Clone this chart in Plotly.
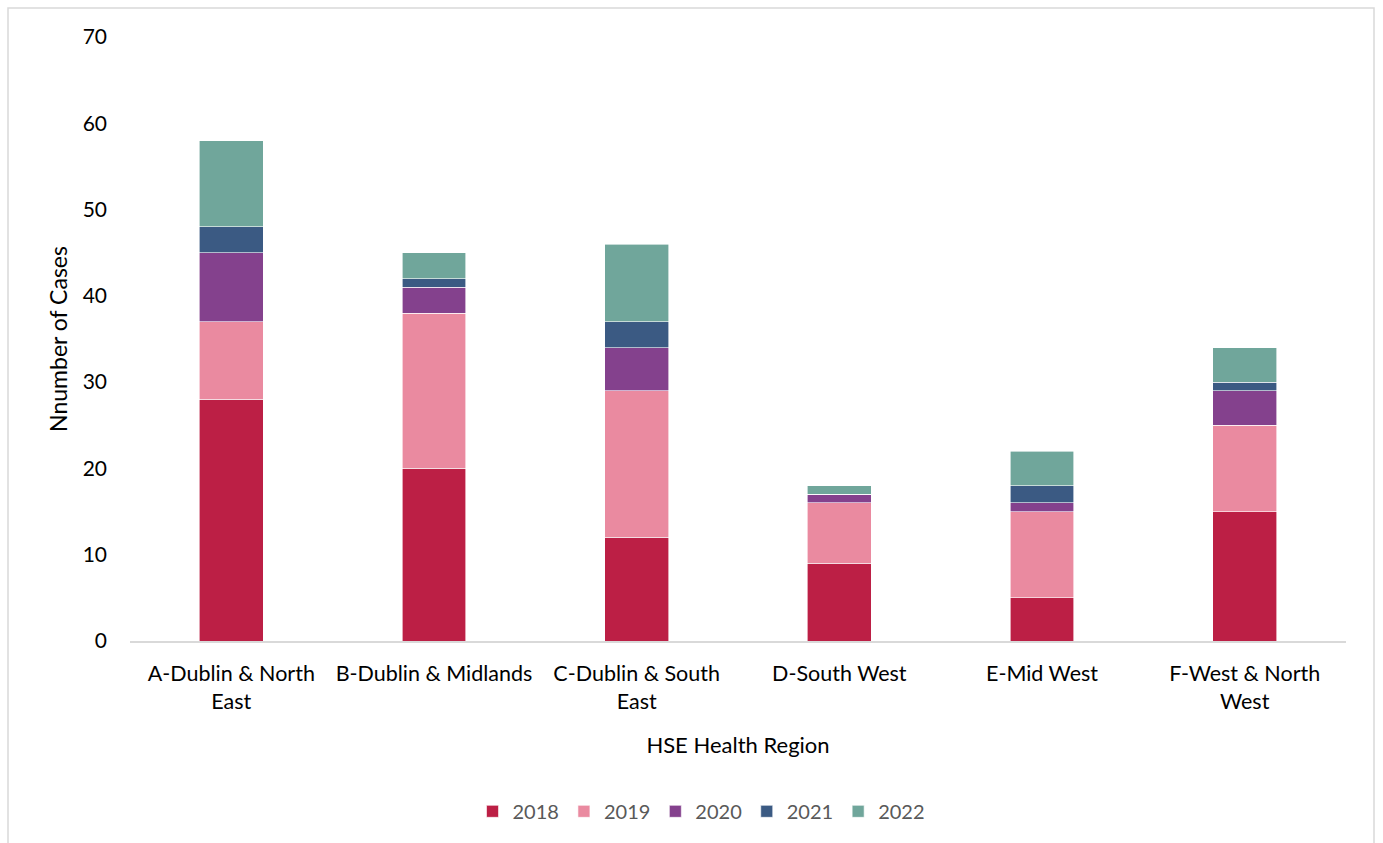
import plotly.graph_objects as go

regions = ["A-Dublin & North<br>East", "B-Dublin & Midlands", "C-Dublin & South<br>East",
           "D-South West", "E-Mid West", "F-West & North<br>West"]
years = ["2018", "2019", "2020", "2021", "2022"]
v2018 = [28, 20, 12, 9, 5, 15]
v2019 = [9, 18, 17, 7, 10, 10]
v2020 = [8, 3, 5, 1, 1, 4]
v2021 = [3, 1, 3, 0, 2, 1]
v2022 = [10, 3, 9, 1, 4, 4]
series = [v2018, v2019, v2020, v2021, v2022]
colors = ["#BC1F45", "#EA8AA0", "#84418D", "#3B5A83", "#70A69B"]

fig = go.Figure()
for name, vals, c in zip(years, series, colors):
    fig.add_trace(go.Bar(x=regions, y=vals, name=name, marker=dict(color=c, line=dict(color="white", width=0.6))))

W, H = 1383, 843
l, r, t, b = 130, 37, 37, 202
pw, ph = W - l - r, H - t - b

fig.update_layout(
    width=W, height=H, barmode="stack", bargap=0.685,
    margin=dict(l=l, r=r, t=t, b=b),
    paper_bgcolor="white", plot_bgcolor="white",
    font=dict(family="Lato, Liberation Sans, sans-serif", size=21, color="#000000"),
    legend=dict(orientation="h", x=0.47, xanchor="center", y=-0.282, yanchor="middle",
                font=dict(size=20, color="#595959"), itemwidth=30, traceorder="normal"),
    xaxis=dict(showgrid=False, showline=True, linecolor="#D9D9D9", linewidth=1.5, ticks="",
               ticklabelstandoff=12,
               title=dict(text="HSE Health Region", font=dict(size=22, color="#000000"), standoff=25),
               tickfont=dict(size=21.5, color="#000000")),
    yaxis=dict(range=[0, 70], dtick=10, showgrid=False, showline=False, ticks="", zeroline=False,
               ticklabelstandoff=22,
               title=dict(text="Nnumber of Cases", font=dict(size=23, color="#000000"), standoff=8),
               tickfont=dict(size=21, color="#000000")),
    shapes=[dict(type="rect", xref="paper", yref="paper",
                 x0=(8 - l) / pw, x1=(1374 - l) / pw, y0=-(900 - (H - b)) / ph, y1=1 + (t - 8) / ph,
                 line=dict(color="#D9D9D9", width=1.5), fillcolor="rgba(0,0,0,0)", layer="below")],
)
fig.write_html("out.html")
